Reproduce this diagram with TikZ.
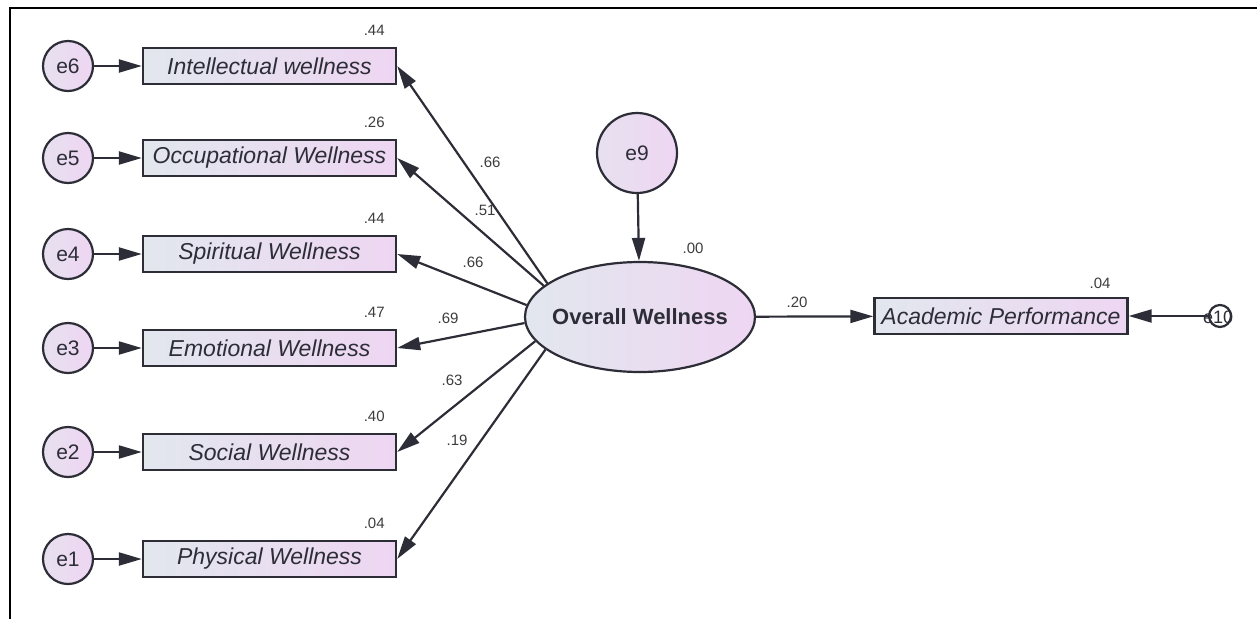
\documentclass[tikz,border=0pt]{standalone}
\usepackage{fontspec}
\setmainfont{Liberation Sans}
\usetikzlibrary{arrows.meta}
\usetikzlibrary{shapes.geometric}
\usetikzlibrary{positioning}
\definecolor{fillL}{RGB}{226,231,238}
\definecolor{fillR}{RGB}{238,214,242}
\definecolor{ink}{RGB}{45,45,55}
\definecolor{numink}{RGB}{60,60,60}

\begin{document}
\begin{tikzpicture}[x=1pt,y=-1pt,
every node/.style={text=ink},
obs/.style={draw=ink,line width=2.4pt,left color=fillL,right color=fillR,
  minimum width=253pt,minimum height=36pt,inner sep=0pt,
  font=\fontsize{23}{23}\selectfont\itshape},
err/.style={circle,draw=ink,line width=2.2pt,left color=fillL!60!fillR,right color=fillR,
  minimum size=50pt,inner sep=0pt,font=\fontsize{21}{21}\selectfont},
lat/.style={ellipse,draw=ink,line width=2.2pt,left color=fillL,right color=fillR,
  minimum width=230pt,minimum height=110pt,inner xsep=-8pt,inner ysep=0pt,
  font=\fontsize{22}{22}\selectfont\bfseries},
coef/.style={text=numink,font=\fontsize{15}{15}\selectfont},
path/.style={draw=ink,line width=2.2pt,-{Triangle[length=23pt,width=13pt]}}]
\useasboundingbox (0,0) rectangle (1257,619);
% frame
\draw[line width=2pt] (10,619) -- (10,8) -- (1257,8);

% latent variable and its disturbance
\node[lat] (ow) at (640,317) {Overall Wellness};
\node[err,minimum size=80pt] (e9) at (637,153) {e9};
\draw[path] (e9) -- (ow);
\node[coef] at (693,248) {.00};

% outcome
\node[obs] (ap) at (1001,316) {Academic Performance};
\node[coef] at (1100,283) {.04};
\node[circle,draw=ink,line width=2.2pt,minimum size=22pt,inner sep=0pt] (e10) at (1220,316) {};
\draw[path] (e10) -- (ap);
\node[font=\fontsize{18}{18}\selectfont] at (1218,317) {e10};
\draw[path] (ow) -- (ap) node[coef,pos=0.35,above=4pt] {.20};

% indicators with their errors
\foreach \i/\y/\txt/\rsq in {6/66/Intellectual wellness/.44,
                            5/158/Occupational Wellness/.26,
                            4/254/Spiritual Wellness/.44,
                            3/348/Emotional Wellness/.47,
                            2/452/Social Wellness/.40,
                            1/559/Physical Wellness/.04}{
  \node[obs] (v\i) at (269.5,\y) {\txt};
  \node[err] (e\i) at (68,\y) {e\i};
  \draw[path] (e\i) -- (v\i);
  \node[coef] at ([xshift=-23pt,yshift=16pt]v\i.north east) {\rsq};
}

% loadings
\foreach \i/\ang/\lx/\ly/\lam in {6/160/490/162/.66,
                                 5/162/485/210/.51,
                                 4/174/473/262/.66,
                                 3/183/448/318/.69,
                                 2/193/452/380/.63,
                                 1/199/457/440/.19}{
  \draw[path] (ow.\ang) -- (v\i.east);
  \node[coef] at (\lx,\ly) {\lam};
}
\end{tikzpicture}
\end{document}
